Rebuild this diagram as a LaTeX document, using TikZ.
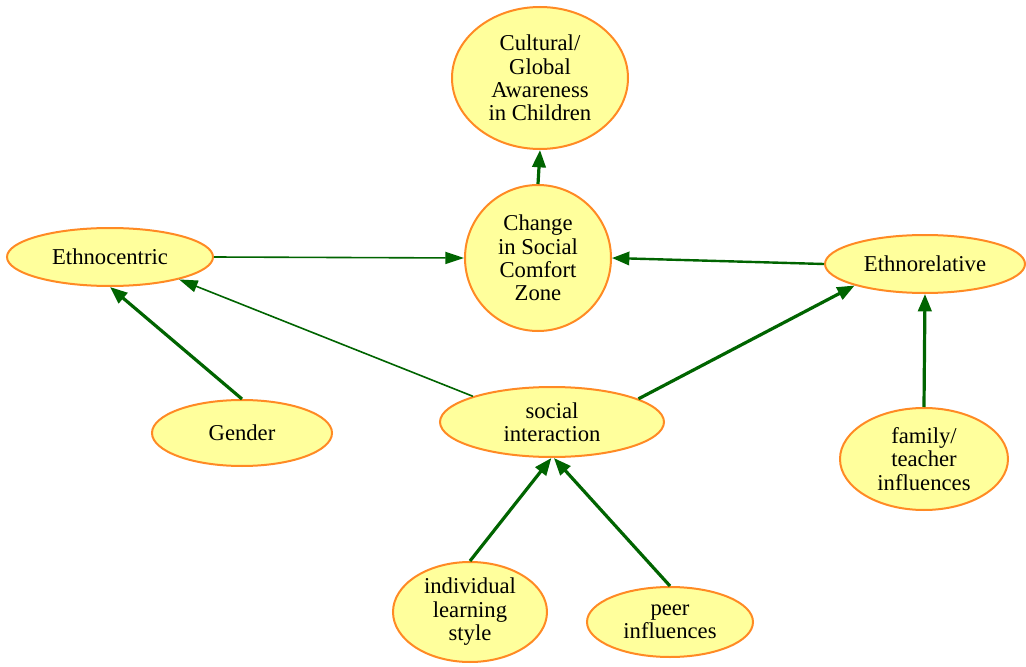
\documentclass[tikz,border=0pt]{standalone}
\usepackage{fontspec}
\setmainfont{Liberation Serif}
\usetikzlibrary{shapes.geometric,arrows.meta}
\definecolor{nodefill}{HTML}{FFFF9C}
\definecolor{nodeline}{HTML}{FF8A24}
\definecolor{arrowgreen}{HTML}{006400}
\tikzset{
  concept/.style={ellipse, draw=nodeline, line width=1.5pt, fill=nodefill, inner sep=0pt,
    align=center, font=\fontsize{17}{17.6}\selectfont},
  link/.style={draw=arrowgreen, line width=2.4pt, -{Triangle[length=13pt,width=10pt]}},
  thinlink/.style={draw=arrowgreen, line width=1.2pt, -{Triangle[length=14pt,width=9pt]}}
}
\begin{document}
\begin{tikzpicture}[x=0.75pt,y=-0.75pt]
\useasboundingbox[fill=white] (0,0) rectangle (1026,667);
\node[concept, minimum width=132pt, minimum height=106.5pt] (cult) at (540,78) {Cultural/\\Global\\Awareness\\in Children};
\node[concept, minimum width=109.5pt, minimum height=109.5pt] (change) at (538,258) {Change\\in Social\\Comfort\\Zone};
\node[concept, minimum width=154.5pt, minimum height=43.5pt] (ethc) at (110,257) {Ethnocentric};
\node[concept, minimum width=150pt, minimum height=43.5pt] (ethr) at (925,264) {Ethnorelative};
\node[concept, minimum width=135pt, minimum height=49.5pt] (gender) at (242,433) {Gender};
\node[concept, minimum width=168pt, minimum height=52.5pt] (social) at (552,422) {social\\interaction};
\node[concept, minimum width=126pt, minimum height=76.5pt] (family) at (924,459) {family/\\teacher\\influences};
\node[concept, minimum width=115.5pt, minimum height=75pt] (indiv) at (470,612) {individual\\learning\\style};
\node[concept, minimum width=124.5pt, minimum height=52.5pt] (peer) at (670,622) {peer\\influences};

\draw[link] (change.north) -- (cult.south);
\draw[thinlink] (ethc.east) -- (change.west);
\draw[link, line width=1.8pt] (ethr.west) -- (change.east);
\draw[thinlink] (social.162) -- (ethc.-18);
\draw[link] (social.15) -- (ethr.-163);
\draw[link] (gender.north) -- (ethc.south);
\draw[link] (family.north) -- (ethr.south);
\draw[link] (indiv.north) -- (social.-91);
\draw[link] (peer.north) -- (social.-87);
\end{tikzpicture}
\end{document}
